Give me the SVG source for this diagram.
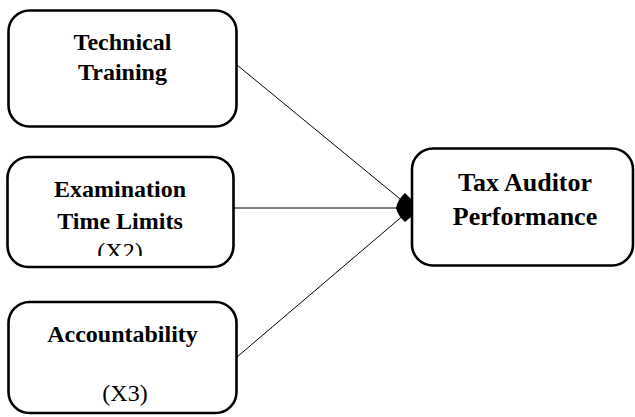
<svg xmlns="http://www.w3.org/2000/svg" width="635" height="417" viewBox="0 0 635 417">
<style>
.box{fill:#fff;stroke:#000;stroke-width:2.6}
.t{font-family:"Liberation Serif","Times New Roman",serif;font-weight:bold;font-size:24px;text-anchor:middle;fill:#000}
.r{font-family:"Liberation Serif","Times New Roman",serif;font-size:24px;text-anchor:middle;fill:#000}
.big{font-size:26px}
.c{stroke:#000;stroke-width:1;fill:none}
</style>
<defs>
<clipPath id="clip2"><rect x="0" y="140" width="260" height="116"/></clipPath>
</defs>
<rect width="635" height="417" fill="#fff"/>
<g id="connectors">
<line class="c" x1="237" y1="65" x2="405" y2="203"/>
<line class="c" x1="234" y1="208" x2="405" y2="208"/>
<line class="c" x1="237" y1="357" x2="405" y2="214"/>
<path d="M396,208 Q398,199 405,193 L411,199 L411,217 L405,222 Q398,216 396,208 Z" fill="#000"/>
</g>
<g id="technical-training">
<rect class="box" x="8.5" y="10.5" width="228" height="116" rx="21"/>
<text class="t" x="122.5" y="50">Technical</text>
<text class="t" x="122.5" y="80">Training</text>
</g>
<g id="examination-time-limits">
<rect class="box" x="7.5" y="157" width="226" height="110" rx="21"/>
<text class="t" x="120" y="197">Examination</text>
<text class="t" x="120" y="229">Time Limits</text>
<text class="r" x="120" y="259" clip-path="url(#clip2)">(X2)</text>
</g>
<g id="accountability">
<rect class="box" x="8.5" y="302" width="228" height="111" rx="21"/>
<text class="t" x="122.5" y="342">Accountability</text>
<text class="r" x="125" y="401">(X3)</text>
</g>
<g id="tax-auditor-performance">
<rect class="box" x="412" y="148.5" width="221" height="117" rx="21"/>
<text class="t big" x="525" y="191">Tax Auditor</text>
<text class="t big" x="525" y="225">Performance</text>
</g>
</svg>
